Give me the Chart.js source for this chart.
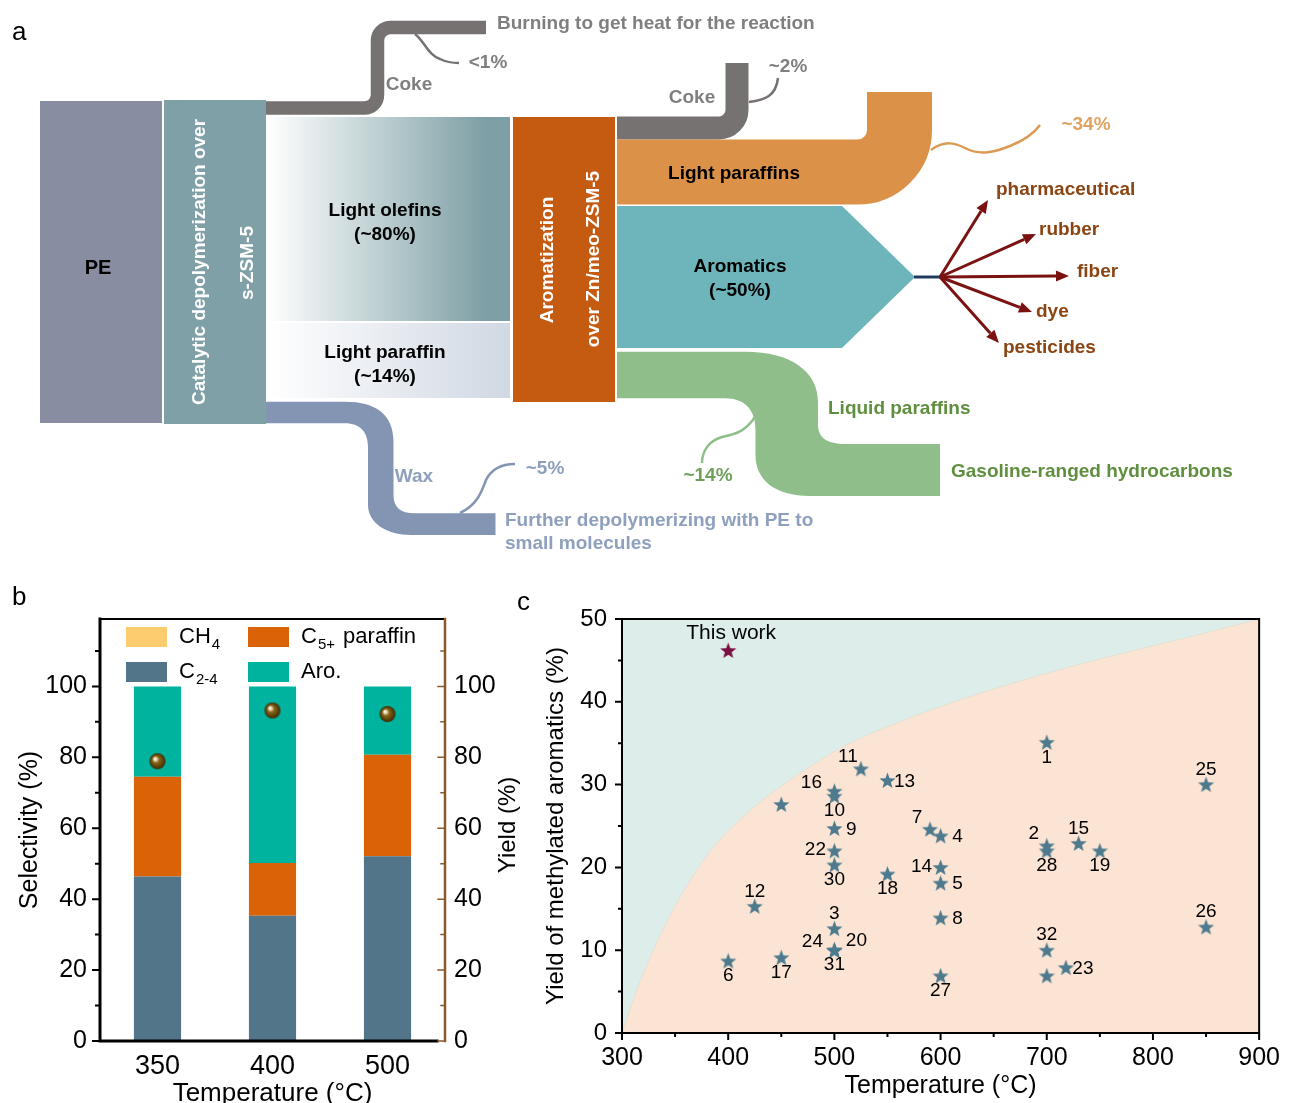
<!DOCTYPE html>
<html>
<head>
<meta charset="utf-8">
<script src="https://cdn.jsdelivr.net/npm/chart.js@4.4.1/dist/chart.umd.min.js"></script>
<style>
html, body { margin: 0; padding: 0; background: #fff; }
body { width: 1290px; height: 1103px; position: relative; overflow: hidden; font-family: 'Liberation Sans', Arial, sans-serif; }
canvas { position: absolute; }
#cA { left: 0; top: 0; }
#cB { left: 0; top: 580px; }
#cC { left: 500px; top: 580px; }
.tag { position: absolute; font-size: 26px; line-height: 26px; color: #000; }
</style>
</head>
<body>
<canvas id="cA" width="1290" height="578"></canvas>
<canvas id="cB" width="530" height="523"></canvas>
<canvas id="cC" width="790" height="523"></canvas>
<div class="tag" style="left:12px;top:18px">a</div>
<div class="tag" style="left:12px;top:583px">b</div>
<div class="tag" style="left:517px;top:588px">c</div>
<script>
var FONT = "'Liberation Sans', Arial, sans-serif";

// ---- panel a: streams of the scheme and their shares
var flowNames = ['Light olefins', 'Light paraffin', 'Coke', 'Wax', 'Coke', 'Light paraffins', 'Aromatics', 'Liquid paraffins'];
var flowShares = ['~80%', '~14%', '<1%', '~5%', '~2%', '~34%', '~50%', '~14%'];
var aroUses = ['pharmaceutical', 'rubber', 'fiber', 'dye', 'pesticides'];

// ---- panel b: selectivity (%) and yield (%) vs temperature
var tempB = ['350', '400', '500'];
var selC24 = [46.4, 35.3, 52.1];
var selC5 = [28.1, 14.9, 28.6];
var selCH4 = [0, 0, 0];
var selAro = [25.5, 49.8, 19.3];
var yieldB = [78.9, 93.2, 92.2];

// ---- panel c: literature yields of methylated aromatics
var litTemp = [700, 700, 700, 730, 750, 850, 850, 700, 718, 700, 590, 600, 600, 600, 600, 600,
               550, 525, 500, 500, 450, 500, 500, 500, 550, 425, 500, 500, 500, 500, 400, 450];
var litYield = [35.1, 22.6, 22.0, 22.9, 22.0, 30.0, 12.8, 10.0, 7.9, 6.9, 24.6, 23.8, 20.0, 18.1, 13.9, 6.9,
                30.5, 31.9, 29.2, 28.6, 27.6, 24.7, 22.0, 20.3, 19.2, 15.3, 12.6, 10.0, 10.0, 10.0, 8.7, 9.1];
var litLabel = ['1', '2', '28', '15', '19', '25', '26', '32', '23', '', '7', '4', '14', '5', '8', '27',
                '13', '11', '16', '10', '', '9', '22', '30', '18', '12', '3', '24', '20', '31', '6', '17'];
var litPlace = ['b', 'al', 'b', 'a', 'b', 'a', 'a', 'a', 'r', '', 'al', 'r', 'l', 'r', 'r', 'b',
                'r', 'al', 'lu', 'b', '', 'r', 'l', 'b', 'b', 'a', 'a', 'lu2', 'ru', 'b', 'b', 'b'];
var thisTemp = [400];
var thisYield = [46.2];
var boundaryTemp = [300, 310, 320, 335, 350, 370, 390, 420, 450, 480, 510, 560, 620, 680, 760, 840, 900];
var boundaryYield = [0, 3.8, 7.2, 11.5, 15.3, 19.6, 23.0, 26.8, 29.8, 32.4, 34.7, 37.5, 40.3, 42.7, 45.5, 48.0, 50];

// label offsets (px) for panel c
var placeOffset = {
  a: [0, -15], b: [0, 15], r: [17, 1], l: [-19, -1], al: [-13, -12],
  lu: [-23, -8], lu2: [-22, -8], ru: [22, -9]
};

Chart.defaults.font.family = FONT;
Chart.defaults.color = '#000';

function label(ctx, s, x, y, color, opt) {
  opt = opt || {};
  ctx.save();
  ctx.font = (opt.weight || 'bold') + ' ' + (opt.size || 19) + 'px ' + FONT;
  ctx.fillStyle = color;
  ctx.textAlign = opt.align || 'center';
  ctx.textBaseline = 'middle';
  ctx.translate(x, y);
  if (opt.rot) ctx.rotate(opt.rot);
  ctx.fillText(s, 0, 0);
  ctx.restore();
}

function band(ctx, pts, w, r, color) {
  ctx.beginPath();
  ctx.moveTo(pts[0][0], pts[0][1]);
  for (var i = 1; i < pts.length - 1; i++) {
    ctx.arcTo(pts[i][0], pts[i][1], pts[i + 1][0], pts[i + 1][1], r);
  }
  ctx.lineTo(pts[pts.length - 1][0], pts[pts.length - 1][1]);
  ctx.lineWidth = w;
  ctx.strokeStyle = color;
  ctx.lineCap = 'butt';
  ctx.stroke();
}

function thin(ctx, d, color) {
  ctx.beginPath();
  ctx.moveTo(d[0], d[1]);
  for (var i = 2; i < d.length; i += 6) {
    ctx.bezierCurveTo(d[i], d[i + 1], d[i + 2], d[i + 3], d[i + 4], d[i + 5]);
  }
  ctx.lineWidth = 2.5;
  ctx.strokeStyle = color;
  ctx.stroke();
}

function arrow(ctx, x0, y0, x1, y1, color) {
  var a = Math.atan2(y1 - y0, x1 - x0), L = 13, h = 5.5;
  var bx = x1 - L * Math.cos(a), by = y1 - L * Math.sin(a);
  ctx.beginPath();
  ctx.moveTo(x0, y0);
  ctx.lineTo(bx, by);
  ctx.lineWidth = 3;
  ctx.strokeStyle = color;
  ctx.stroke();
  ctx.beginPath();
  ctx.moveTo(x1, y1);
  ctx.lineTo(bx + h * Math.sin(a), by - h * Math.cos(a));
  ctx.lineTo(bx - h * Math.sin(a), by + h * Math.cos(a));
  ctx.closePath();
  ctx.fillStyle = color;
  ctx.fill();
}

var schemePlugin = {
  id: 'scheme',
  afterDraw: function(chart) {
    var ctx = chart.ctx, sx = chart.scales.x, sy = chart.scales.y;
    ctx.save();
    ctx.translate(sx.getPixelForValue(0), sy.getPixelForValue(0));
    ctx.scale(sx.getPixelForValue(1) - sx.getPixelForValue(0), sy.getPixelForValue(1) - sy.getPixelForValue(0));

    var gray = '#767272', grayTxt = '#7f7f7f';

    // feed and first reactor
    ctx.fillStyle = '#888da1';
    ctx.fillRect(40, 101, 122, 322);
    ctx.fillStyle = '#7fa0a6';
    ctx.fillRect(164, 100, 102, 324);

    // olefin / paraffin blocks
    var g1 = ctx.createLinearGradient(267, 0, 510, 0);
    g1.addColorStop(0, '#ffffff');
    g1.addColorStop(0.5, '#b8cbce');
    g1.addColorStop(0.9, '#7e9fa5');
    g1.addColorStop(1, '#7e9fa5');
    ctx.fillStyle = g1;
    ctx.fillRect(267, 117, 243, 204);
    var g2 = ctx.createLinearGradient(267, 0, 510, 0);
    g2.addColorStop(0, '#ffffff');
    g2.addColorStop(1, '#d0d8e3');
    ctx.fillStyle = g2;
    ctx.fillRect(267, 323, 243, 75);

    // second reactor
    ctx.fillStyle = '#c55a11';
    ctx.fillRect(513, 117, 102, 285);

    // coke from first step
    band(ctx, [[266, 108], [377.5, 108], [377.5, 27.5], [486, 27.5]], 13.5, 13, gray);
    thin(ctx, [415, 34, 425, 42, 428, 55, 440, 59, 446, 62, 452, 63, 459, 63], gray);

    // wax
    ctx.beginPath();
    ctx.moveTo(266, 401.7);
    ctx.lineTo(345, 401.7);
    ctx.bezierCurveTo(377, 401.7, 393.5, 415, 393.5, 442);
    ctx.lineTo(393.5, 495);
    ctx.bezierCurveTo(393.5, 507, 400, 513.3, 415, 513.3);
    ctx.lineTo(495.5, 513.3);
    ctx.lineTo(495.5, 535);
    ctx.lineTo(412, 535);
    ctx.bezierCurveTo(385, 535, 368, 522, 368, 505);
    ctx.lineTo(368, 447);
    ctx.bezierCurveTo(368, 432, 360, 423.3, 345, 423.3);
    ctx.lineTo(266, 423.3);
    ctx.closePath();
    ctx.fillStyle = '#8395b3';
    ctx.fill();
    thin(ctx, [460, 513, 478, 505, 482, 490, 486, 480, 492, 468, 503, 464, 515, 464], '#8395b3');

    // coke from second step
    band(ctx, [[617, 128], [737, 128], [737, 63]], 23, 18, gray);
    thin(ctx, [749, 102, 765, 100, 776, 96, 778, 78], gray);

    // light paraffins
    band(ctx, [[617, 172], [899.5, 172], [899.5, 92]], 65, 42, '#dc9149');
    thin(ctx, [931, 150, 945, 140, 955, 143, 965, 148, 980, 156, 995, 152, 1010, 146, 1025, 140, 1035, 132, 1040, 125], '#dc9a55');

    // aromatics
    ctx.beginPath();
    ctx.moveTo(617, 206);
    ctx.lineTo(842, 206);
    ctx.lineTo(915, 277);
    ctx.lineTo(842, 348);
    ctx.lineTo(617, 348);
    ctx.closePath();
    ctx.fillStyle = '#6db5ba';
    ctx.fill();
    ctx.beginPath();
    ctx.moveTo(914, 277);
    ctx.lineTo(941, 277);
    ctx.lineWidth = 3;
    ctx.strokeStyle = '#1f3b5c';
    ctx.stroke();
    var ends = [[988, 200], [1036, 234], [1069, 276], [1032, 312], [999, 343]];
    var txtPos = [[996, 190], [1039, 230], [1077, 272], [1036, 312], [1003, 348]];
    for (var i = 0; i < aroUses.length; i++) {
      arrow(ctx, 940, 277, ends[i][0], ends[i][1], '#7b1212');
      label(ctx, aroUses[i], txtPos[i][0], txtPos[i][1], '#8b4513', {align: 'left'});
    }

    // liquid paraffins
    ctx.beginPath();
    ctx.moveTo(617, 351.7);
    ctx.lineTo(745, 351.7);
    ctx.bezierCurveTo(792, 351.7, 818, 372, 818, 402);
    ctx.lineTo(818, 425);
    ctx.bezierCurveTo(818, 438, 828, 444, 845, 444);
    ctx.lineTo(940, 444);
    ctx.lineTo(940, 496);
    ctx.lineTo(810, 496);
    ctx.bezierCurveTo(775, 496, 755.5, 480, 755.5, 455);
    ctx.lineTo(755.5, 430);
    ctx.bezierCurveTo(755.5, 410, 745, 398.3, 725, 398.3);
    ctx.lineTo(617, 398.3);
    ctx.closePath();
    ctx.fillStyle = '#90be8a';
    ctx.fill();
    thin(ctx, [755, 417, 745, 432, 735, 434, 722, 437, 708, 441, 702, 452, 702, 463], '#90be8a');

    // texts
    label(ctx, 'PE', 98, 268, '#000', {size: 20});
    label(ctx, 'Catalytic depolymerization over', 200, 262, '#fff', {size: 19, rot: -Math.PI / 2});
    label(ctx, 's-ZSM-5', 248, 263, '#fff', {size: 19, rot: -Math.PI / 2});
    label(ctx, flowNames[0], 385, 211, '#000');
    label(ctx, '(' + flowShares[0] + ')', 385, 235, '#000');
    label(ctx, flowNames[1], 385, 353, '#000');
    label(ctx, '(' + flowShares[1] + ')', 385, 377, '#000');
    label(ctx, 'Aromatization', 548, 260, '#fff', {size: 19, rot: -Math.PI / 2});
    label(ctx, 'over Zn/meo-ZSM-5', 594, 259, '#fff', {size: 19, rot: -Math.PI / 2});
    label(ctx, 'Burning to get heat for the reaction', 497, 24, grayTxt, {align: 'left'});
    label(ctx, flowNames[2], 409, 85, grayTxt);
    label(ctx, flowShares[2], 488, 63, grayTxt);
    label(ctx, flowNames[3], 414, 477, '#8ea0be');
    label(ctx, flowShares[3], 545, 469, '#8ea0be');
    label(ctx, 'Further depolymerizing with PE to', 505, 521, '#8ea0be', {align: 'left'});
    label(ctx, 'small molecules', 505, 544, '#8ea0be', {align: 'left'});
    label(ctx, flowNames[4], 692, 98, grayTxt);
    label(ctx, flowShares[4], 788, 67, grayTxt);
    label(ctx, flowNames[5], 734, 174, '#000');
    label(ctx, flowShares[5], 1086, 125, '#e0a35e');
    label(ctx, flowNames[6], 740, 267, '#000');
    label(ctx, '(' + flowShares[6] + ')', 740, 291, '#000');
    label(ctx, flowNames[7], 828, 409, '#5f8f3e', {align: 'left'});
    label(ctx, 'Gasoline-ranged hydrocarbons', 951, 472, '#5f8f3e', {align: 'left'});
    label(ctx, flowShares[7], 708, 476, '#6fa05a');
    ctx.restore();
  }
};

new Chart(document.getElementById('cA'), {
  type: 'scatter',
  data: { datasets: [] },
  options: {
    responsive: false, animation: false, events: [],
    layout: { padding: 0 },
    plugins: { legend: { display: false }, tooltip: { enabled: false } },
    scales: {
      x: { type: 'linear', min: 0, max: 1290, display: false },
      y: { type: 'linear', min: 0, max: 578, reverse: true, display: false }
    }
  },
  plugins: [schemePlugin]
});

// ---------- marker images ----------
function sphereImg(r) {
  var s = Math.ceil(r * 2 + 2), c = document.createElement('canvas');
  c.width = s; c.height = s;
  var x = c.getContext('2d');
  var g = x.createRadialGradient(s / 2 - r * 0.35, s / 2 - r * 0.35, 0, s / 2, s / 2, r);
  g.addColorStop(0, '#ffffff');
  g.addColorStop(0.2, '#e8dcb8');
  g.addColorStop(0.42, '#8a6718');
  g.addColorStop(1, '#3d2905');
  x.fillStyle = g;
  x.beginPath();
  x.arc(s / 2, s / 2, r, 0, Math.PI * 2);
  x.fill();
  return c;
}

function starImg(color, r) {
  var s = Math.ceil(r * 2 + 2), c = document.createElement('canvas');
  c.width = s; c.height = s;
  var x = c.getContext('2d');
  x.beginPath();
  for (var i = 0; i < 10; i++) {
    var rr = i % 2 === 0 ? r : r * 0.42;
    var a = -Math.PI / 2 + i * Math.PI / 5;
    var px = s / 2 + rr * Math.cos(a), py = s / 2 + 0.6 + rr * Math.sin(a);
    if (i === 0) x.moveTo(px, py); else x.lineTo(px, py);
  }
  x.closePath();
  x.fillStyle = color;
  x.fill();
  return c;
}

function drawTicks(ctx, scale, vals, len, side) {
  ctx.beginPath();
  vals.forEach(function(v) {
    var p = scale.getPixelForValue(v);
    if (side === 'left') { ctx.moveTo(scale.right, p); ctx.lineTo(scale.right - len, p); }
    if (side === 'rightIn') { ctx.moveTo(scale.left, p); ctx.lineTo(scale.left - len, p); }
    if (side === 'bottom') { ctx.moveTo(p, scale.top); ctx.lineTo(p, scale.top + len); }
  });
  ctx.stroke();
}

// ---------- panel b ----------
var frameB = {
  id: 'frameB',
  afterDatasetsDraw: function(chart) {
    var ctx = chart.ctx, a = chart.chartArea;
    ctx.save();
    ctx.lineCap = 'square';
    ctx.strokeStyle = '#000';
    ctx.lineWidth = 2;
    ctx.beginPath(); ctx.moveTo(a.left, a.top); ctx.lineTo(a.right, a.top); ctx.stroke();
    ctx.lineWidth = 3;
    ctx.beginPath(); ctx.moveTo(a.left, a.top); ctx.lineTo(a.left, a.bottom); ctx.lineTo(a.right - 8, a.bottom); ctx.stroke();
    ctx.lineWidth = 2;
    drawTicks(ctx, chart.scales.y, [0, 20, 40, 60, 80, 100], 7, 'left');
    drawTicks(ctx, chart.scales.y, [10, 30, 50, 70, 90, 110], 4, 'left');
    ctx.strokeStyle = '#8b5a2b';
    ctx.lineWidth = 2.5;
    ctx.beginPath(); ctx.moveTo(a.right, a.top); ctx.lineTo(a.right, a.bottom); ctx.stroke();
    ctx.lineWidth = 1.5;
    drawTicks(ctx, chart.scales.y1, [0, 20, 40, 60, 80, 100], 7, 'rightIn');
    drawTicks(ctx, chart.scales.y1, [10, 30, 50, 70, 90, 110], 4, 'rightIn');

    // legend with subscripts
    var items = [
      [126, 47, '#fdcc6e', 'CH', '4', ''],
      [248, 47, '#da6207', 'C', '5+', ' paraffin'],
      [126, 82, '#527589', 'C', '2-4', ''],
      [248, 82, '#00b39f', 'Aro.', '', '']
    ];
    ctx.textBaseline = 'middle';
    ctx.textAlign = 'left';
    items.forEach(function(it) {
      ctx.fillStyle = it[2];
      ctx.fillRect(it[0], it[1], 41, 20);
      var x = it[0] + 53, y = it[1] + 10;
      ctx.fillStyle = '#000';
      ctx.font = '22px ' + FONT;
      ctx.fillText(it[3], x, y);
      x += ctx.measureText(it[3]).width + 1;
      if (it[4]) {
        ctx.font = '15px ' + FONT;
        ctx.fillText(it[4], x, y + 8);
        x += ctx.measureText(it[4]).width + 2;
      }
      if (it[5]) {
        ctx.font = '22px ' + FONT;
        ctx.fillText(it[5], x, y);
      }
    });

    // right axis title
    ctx.translate(508, 245);
    ctx.rotate(-Math.PI / 2);
    ctx.textAlign = 'center';
    ctx.font = '24px ' + FONT;
    ctx.fillText('Yield (%)', 0, 0);
    ctx.restore();
  }
};

new Chart(document.getElementById('cB'), {
  type: 'bar',
  data: {
    labels: tempB,
    datasets: [
      { label: 'C2-4', data: selC24, backgroundColor: '#527589', order: 1 },
      { label: 'C5+ paraffin', data: selC5, backgroundColor: '#da6207', order: 1 },
      { label: 'CH4', data: selCH4, backgroundColor: '#fdcc6e', order: 1 },
      { label: 'Aro.', data: selAro, backgroundColor: '#00b39f', order: 1 },
      { type: 'line', label: 'Yield', data: yieldB, yAxisID: 'y1', showLine: false,
        pointStyle: sphereImg(8), pointRadius: 8, order: 0 }
    ]
  },
  options: {
    responsive: false, animation: false, events: [],
    layout: { padding: { top: 39, left: 0, right: 0, bottom: 0 } },
    datasets: { bar: { barPercentage: 0.41, categoryPercentage: 1, borderWidth: 0 } },
    plugins: { legend: { display: false }, tooltip: { enabled: false } },
    scales: {
      x: {
        type: 'category', offset: true, stacked: true,
        grid: { display: false, drawTicks: false }, border: { display: false },
        ticks: { font: { size: 27 }, color: '#000', padding: 9 },
        title: { display: true, text: 'Temperature (°C)', font: { size: 26 }, color: '#000', padding: { top: 0, bottom: -6 } },
        afterFit: function(s) { s.height = 62; }
      },
      y: {
        type: 'linear', position: 'left', stacked: true, min: 0, max: 119,
        afterBuildTicks: function(s) { s.ticks = s.ticks.filter(function(t) { return t.value % 20 === 0; }); },
        grid: { display: false, drawTicks: false }, border: { display: false },
        ticks: { stepSize: 20, font: { size: 25 }, color: '#000', padding: 13 },
        title: { display: true, text: 'Selectivity (%)', font: { size: 25 }, color: '#000', padding: { top: 15 } },
        afterFit: function(s) { s.width = 100; }
      },
      y1: {
        type: 'linear', position: 'right', min: 0, max: 119,
        afterBuildTicks: function(s) { s.ticks = s.ticks.filter(function(t) { return t.value % 20 === 0; }); },
        grid: { display: false, drawTicks: false }, border: { display: false },
        ticks: { stepSize: 20, font: { size: 25 }, color: '#000', padding: 9 },
        afterFit: function(s) { s.width = 85; }
      }
    }
  },
  plugins: [frameB]
});

// ---------- panel c ----------
var frameC = {
  id: 'frameC',
  beforeDatasetsDraw: function(chart) {
    var ctx = chart.ctx, a = chart.chartArea;
    ctx.save();
    ctx.fillStyle = '#dcedea';
    ctx.fillRect(a.left, a.top, a.right - a.left, a.bottom - a.top);
    ctx.restore();
  },
  afterDatasetsDraw: function(chart) {
    var ctx = chart.ctx, a = chart.chartArea;
    ctx.save();
    ctx.strokeStyle = '#000';
    ctx.lineWidth = 2;
    ctx.strokeRect(a.left, a.top, a.right - a.left, a.bottom - a.top);
    drawTicks(ctx, chart.scales.y, [0, 10, 20, 30, 40, 50], 7, 'left');
    drawTicks(ctx, chart.scales.y, [5, 15, 25, 35, 45], 4, 'left');
    drawTicks(ctx, chart.scales.x, [300, 400, 500, 600, 700, 800, 900], 7, 'bottom');
    drawTicks(ctx, chart.scales.x, [350, 450, 550, 650, 750, 850], 4, 'bottom');

    ctx.fillStyle = '#000';
    ctx.textAlign = 'center';
    ctx.textBaseline = 'middle';
    ctx.font = '19px ' + FONT;
    var meta = chart.getDatasetMeta(1);
    meta.data.forEach(function(el, i) {
      if (!litLabel[i]) return;
      var o = placeOffset[litPlace[i]];
      ctx.fillText(litLabel[i], el.x + o[0], el.y + o[1]);
    });
    var t = chart.getDatasetMeta(2).data[0];
    ctx.font = '21px ' + FONT;
    ctx.fillText('This work', t.x + 3, t.y - 17);
    ctx.restore();
  }
};

function pairs(xs, ys) {
  return xs.map(function(x, i) { return { x: x, y: ys[i] }; });
}

new Chart(document.getElementById('cC'), {
  type: 'scatter',
  data: {
    datasets: [
      { type: 'line', label: 'boundary', data: pairs(boundaryTemp, boundaryYield), order: 5,
        borderColor: '#e6e0d2', borderWidth: 1, backgroundColor: '#fbe4d3', fill: 'origin',
        pointRadius: 0, cubicInterpolationMode: 'monotone' },
      { label: 'Literature', data: pairs(litTemp, litYield), order: 1,
        pointStyle: starImg('#4e7a8e', 8.5), pointRadius: 9 },
      { label: 'This work', data: pairs(thisTemp, thisYield), order: 0,
        pointStyle: starImg('#7b1042', 8.5), pointRadius: 9 }
    ]
  },
  options: {
    responsive: false, animation: false, events: [],
    layout: { padding: { top: 39, left: 0, right: 25, bottom: 0 } },
    plugins: { legend: { display: false }, tooltip: { enabled: false } },
    scales: {
      x: {
        type: 'linear', min: 300, max: 900,
        grid: { display: false, drawTicks: false }, border: { display: false },
        ticks: { stepSize: 100, font: { size: 25 }, color: '#000', padding: 10 },
        title: { display: true, text: 'Temperature (°C)', font: { size: 25 }, color: '#000', padding: { top: 0, bottom: 2 } },
        afterFit: function(s) { s.height = 70; }
      },
      y: {
        type: 'linear', min: 0, max: 50,
        grid: { display: false, drawTicks: false }, border: { display: false },
        ticks: { stepSize: 10, font: { size: 24 }, color: '#000', padding: 15 },
        title: { display: true, text: 'Yield of methylated aromatics (%)', font: { size: 24 }, color: '#000', padding: { top: 42 } },
        afterFit: function(s) { s.width = 122; }
      }
    }
  },
  plugins: [frameC]
});
</script>
</body>
</html>
